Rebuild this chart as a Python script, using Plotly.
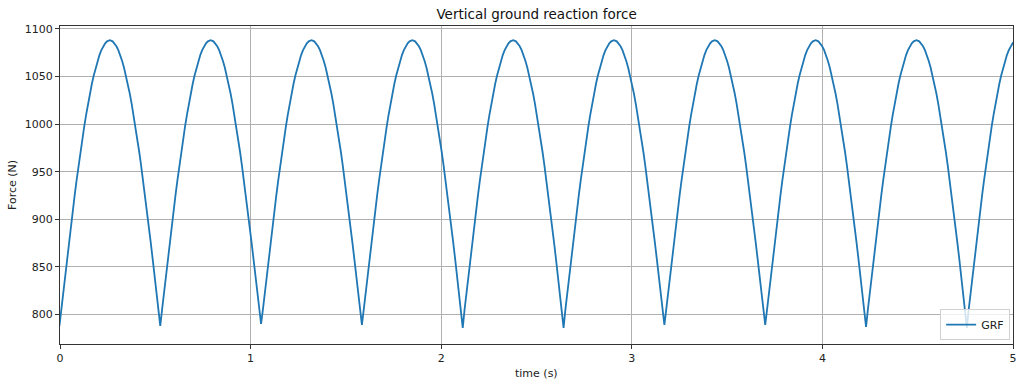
import plotly.graph_objects as go

# Times (s) of the force minima (foot-strike cusps) and the force at each cusp (N)
cusp_times = [-0.003, 0.526, 1.055, 1.584, 2.113, 2.642, 3.171, 3.700, 4.229, 4.758]
cusp_forces = [788, 788, 790, 789, 786, 786, 789, 789, 787, 786]

# Shape of one contact arch, read from the first cycle: offset from cusp (s) and force (N)
arch_offset = [0.0, 0.01, 0.02, 0.03, 0.04, 0.05, 0.06, 0.07, 0.08, 0.09, 0.10, 0.11,
               0.12, 0.13, 0.14, 0.15, 0.16, 0.17, 0.18, 0.19, 0.20, 0.21, 0.22, 0.23,
               0.24, 0.25, 0.2645, 0.279, 0.289, 0.299, 0.309, 0.319, 0.329, 0.339,
               0.349, 0.359, 0.369, 0.379, 0.389, 0.399, 0.409, 0.419, 0.429, 0.439,
               0.449, 0.459, 0.469, 0.479, 0.489, 0.499, 0.509, 0.519]
arch_force = [788, 805.8, 823.6, 841.2, 858.6, 875.8, 892.6, 909.1, 925.3, 940.8, 955.9,
              970.4, 984.2, 997.3, 1009.6, 1021.3, 1032.1, 1042.1, 1051.0, 1059.1, 1066.3,
              1072.4, 1077.6, 1081.7, 1084.8, 1086.9, 1088.0, 1086.9, 1084.8, 1081.7,
              1077.6, 1072.4, 1066.3, 1059.1, 1051.0, 1042.1, 1032.1, 1021.3, 1009.6,
              997.3, 984.2, 970.4, 955.9, 940.8, 925.3, 909.1, 892.6, 875.8, 858.6,
              841.2, 823.6, 805.8]

x_ticks = [0, 1, 2, 3, 4, 5]
y_ticks = [800, 850, 900, 950, 1000, 1050, 1100]

t_vals, f_vals = [], []
for t0, fmin in zip(cusp_times, cusp_forces):
    for i, (dt, f) in enumerate(zip(arch_offset, arch_force)):
        t_vals.append(t0 + dt)
        f_vals.append(fmin if i == 0 else f)

fig = go.Figure()
fig.add_trace(go.Scatter(x=t_vals, y=f_vals, mode="lines", name="GRF",
                         line=dict(color="#1f77b4", width=1.8)))

font = "DejaVu Sans, sans-serif"
fig.update_layout(
    width=1024, height=386,
    margin=dict(l=60, r=11, t=26, b=42),
    paper_bgcolor="white", plot_bgcolor="white",
    font=dict(family=font, size=11, color="#222"),
    title=dict(text="Vertical ground reaction force", x=0.524, xanchor="center",
               y=0.962, yanchor="middle", font=dict(size=13.5, color="#111")),
    showlegend=True,
    legend=dict(x=0.997, y=0.012, xanchor="right", yanchor="bottom",
                bgcolor="rgba(255,255,255,0.8)", bordercolor="#d0d0d0", borderwidth=1,
                font=dict(size=11, color="#222"), itemwidth=30,
                tracegroupgap=0),
    annotations=[
        dict(text="time (s)", xref="paper", yref="paper", x=0.5, y=-0.092,
             xanchor="center", yanchor="middle", showarrow=False,
             font=dict(size=11, color="#222")),
        dict(text="Force (N)", xref="paper", yref="paper", x=-0.0504, y=0.5,
             xanchor="center", yanchor="middle", textangle=-90, showarrow=False,
             font=dict(size=11, color="#222")),
    ],
)
fig.update_xaxes(range=[0, 5], tickvals=x_ticks, ticktext=[str(v) for v in x_ticks],
                 showgrid=True, gridcolor="#b0b0b0", gridwidth=1, automargin=False,
                 showline=True, linecolor="#333", linewidth=1, mirror=True,
                 ticks="outside", ticklen=4, tickcolor="#333", zeroline=False)
fig.update_yaxes(range=[769, 1103], tickvals=y_ticks,
                 showgrid=True, gridcolor="#b0b0b0", gridwidth=1, automargin=False,
                 showline=True, linecolor="#333", linewidth=1, mirror=True,
                 ticks="outside", ticklen=4, tickcolor="#333", zeroline=False)

fig.write_html("out.html", config={"displayModeBar": False},
               post_script="document.body.style.margin='0';document.body.style.overflow='hidden';")
